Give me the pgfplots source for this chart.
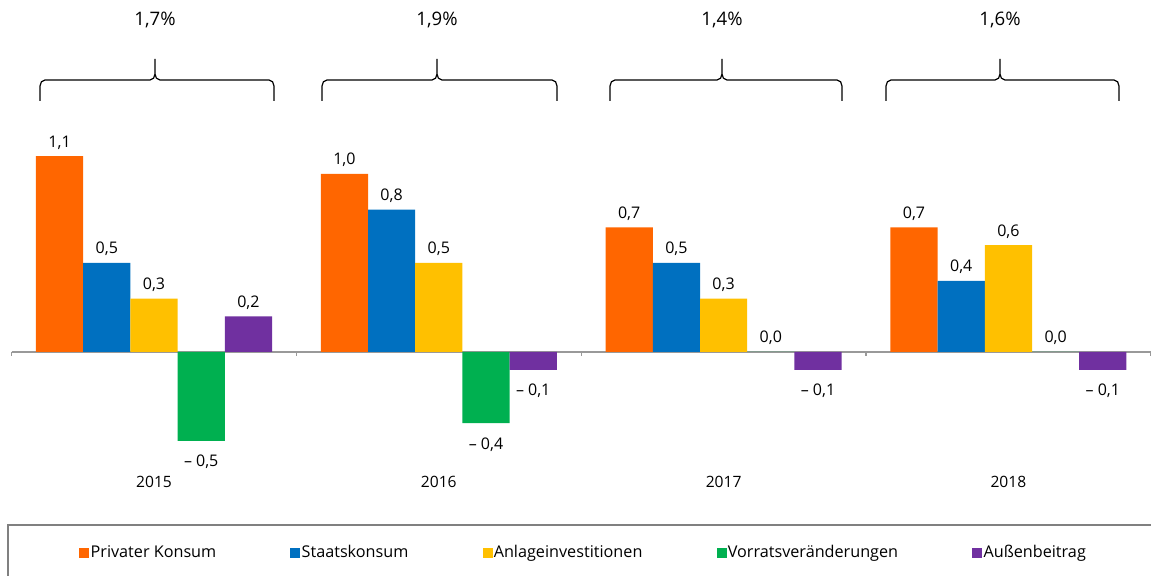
\documentclass[border=0pt]{standalone}
\usepackage{pgfplots}
\pgfplotsset{compat=1.18}
\usepackage{fontspec}
\setmainfont{Open Sans}

\definecolor{cPriv}{RGB}{255,102,0}
\definecolor{cStaat}{RGB}{0,112,192}
\definecolor{cAnl}{RGB}{255,192,0}
\definecolor{cVorr}{RGB}{0,176,80}
\definecolor{cAuss}{RGB}{112,48,160}

\pgfplotsset{sqlegend/.style={legend image code/.code={\fill[##1] (0pt,-2.6pt) rectangle (5pt,2.6pt);}}}
% labels below negative bars
\newcommand{\neglab}[1]{\smash{\raisebox{-16.5pt}{– #1}}}

\begin{document}
\begin{tikzpicture}[font=\fontsize{7.8}{9}\selectfont]
\begin{axis}[
  at={(0,0)}, anchor=south west,
  scale only axis,
  width=569.6pt, height=169.1pt,
  xmin=-0.5, xmax=3.5, ymin=-0.65, ymax=1.25,
  clip=false,
  ybar=0pt, bar width=23.6pt,
  axis line style={draw=none},
  ytick=\empty,
  xtick={0,1,2,3},
  xticklabels={2015,2016,2017,2018},
  major tick style={draw=none},
  xticklabel style={yshift=3.5pt},
  point meta=explicit symbolic,
  nodes near coords,
  nodes near coords align={vertical},
  every node near coord/.append style={font=\fontsize{8}{9.5}\selectfont},
  legend columns=5,
  legend style={draw=none, fill=none, inner sep=0pt,
    at={(rel axis cs:0.0592,-0.252)}, anchor=west,
    font=\fontsize{8.1}{10}\selectfont,
    nodes={inner xsep=0.6pt},
    /tikz/every even column/.append style={column sep=36.5pt}},
]
\draw[gray!80, line width=0.6pt] (axis cs:-0.5,0) -- (axis cs:3.5,0);
\pgfplotsinvokeforeach{-0.5,0.5,1.5,2.5,3.5}{
  \draw[gray!80, line width=0.6pt] (axis cs:#1,0) -- (axis cs:#1,-0.02);
}
\addplot[fill=cPriv, draw=none, sqlegend] coordinates {
  (0,1.1) [{1,1}] (1,1.0) [{1,0}] (2,0.7) [{0,7}] (3,0.7) [{0,7}]};
\addplot[fill=cStaat, draw=none, sqlegend] coordinates {
  (0,0.5) [{0,5}] (1,0.8) [{0,8}] (2,0.5) [{0,5}] (3,0.4) [{0,4}]};
\addplot[fill=cAnl, draw=none, sqlegend] coordinates {
  (0,0.3) [{0,3}] (1,0.5) [{0,5}] (2,0.3) [{0,3}] (3,0.6) [{0,6}]};
\addplot[fill=cVorr, draw=none, sqlegend] coordinates {
  (0,-0.5) [{\neglab{0,5}}] (1,-0.4) [{\neglab{0,4}}] (2,0.0) [{0,0}] (3,0.0) [{0,0}]};
\addplot[fill=cAuss, draw=none, sqlegend] coordinates {
  (0,0.2) [{0,2}] (1,-0.1) [{\neglab{0,1}}] (2,-0.1) [{\neglab{0,1}}] (3,-0.1) [{\neglab{0,1}}]};
\legend{Privater Konsum, Staatskonsum, Anlageinvestitionen, Vorratsveränderungen, Außenbeitrag}
\end{axis}

% annotations in pixel coordinates of the reference
\begin{scope}[shift={(-5.8pt,233.85pt)}, x=0.5pt, y=-0.5pt]
\foreach \L/\M/\R/\t in {40/155/274/{1,7\%}, 322/437/557/{1,9\%}, 610/722/842/{1,4\%}, 886/1000/1119/{1,6\%}}{
  \draw[line width=0.6pt] (\L,101) -- (\L,86) to[out=90,in=180] (\L+5,80) -- (\M-5,80)
    to[out=0,in=-90] (\M,74) -- (\M,59)
    (\M,74) to[out=-90,in=180] (\M+5,80) -- (\R-5,80) to[out=0,in=90] (\R,86) -- (\R,101);
  \node[font=\fontsize{9.3}{11}\selectfont] at (\M,20) {\t};
}
\draw[gray, line width=0.7pt] (8,525) rectangle (1175,600);
\pgfresetboundingbox
\useasboundingbox (0,0) rectangle (1151,576);
\end{scope}
\end{tikzpicture}
\end{document}
